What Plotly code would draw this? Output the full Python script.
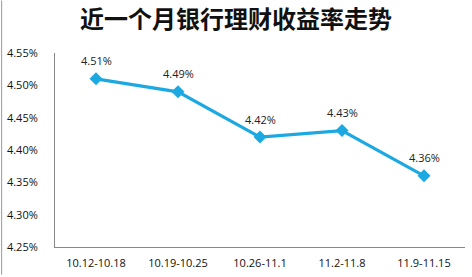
import plotly.graph_objects as go

categories = ["10.12-10.18", "10.19-10.25", "10.26-11.1", "11.2-11.8", "11.9-11.15"]
values = [4.51, 4.49, 4.42, 4.43, 4.36]
y_ticks = [4.25, 4.30, 4.35, 4.40, 4.45, 4.50, 4.55]
title = "近一个月银行理财收益率走势"

W, H = 472, 277
ml, mr, mt, mb = 54, 7, 53, 28

fig = go.Figure()
fig.add_trace(go.Scatter(
    x=categories, y=values, mode="lines+markers",
    line=dict(color="#1CA9E2", width=3.2),
    marker=dict(symbol="diamond", size=10, color="#1CA9E2"),
    hoverinfo="skip", showlegend=False,
))
for c, v in zip(categories, values):
    fig.add_annotation(x=c, y=v, text=f"{v:.2f}%", showarrow=False, yshift=18,
                       font=dict(family="Open Sans, Liberation Sans", size=11, color="#222"))

fig.update_layout(
    width=W, height=H,
    margin=dict(l=ml, r=mr, t=mt, b=mb),
    paper_bgcolor="white", plot_bgcolor="white",
    title=dict(text=title, x=0.5, xref="container", xanchor="center", y=1 - 20 / H, yanchor="middle",
               font=dict(family="Noto Sans CJK SC", size=24, color="#111", weight="bold")),
    xaxis=dict(type="category", showgrid=False, showline=True, linecolor="#888888", linewidth=1,
               ticks="", ticklabelstandoff=6,
               tickfont=dict(family="Open Sans, Liberation Sans", size=11, color="#111"),
               range=[-0.5, 4.5], fixedrange=True),
    yaxis=dict(range=[4.25, 4.55], tickvals=y_ticks, ticktext=[f"{t:.2f}%" for t in y_ticks],
               showgrid=False, showline=True, linecolor="#888888", linewidth=1, ticks="",
               ticklabelstandoff=14,
               tickfont=dict(family="Open Sans, Liberation Sans", size=11, color="#111"),
               zeroline=False, fixedrange=True),
    shapes=[dict(type="line", xref="paper", yref="paper",
                 x0=-(ml - 0.5) / (W - ml - mr), x1=-(ml - 0.5) / (W - ml - mr),
                 y0=-mb / (H - mt - mb), y1=1 + mt / (H - mt - mb),
                 line=dict(color="#999999", width=1))],
)
fig.write_html("out.html")
